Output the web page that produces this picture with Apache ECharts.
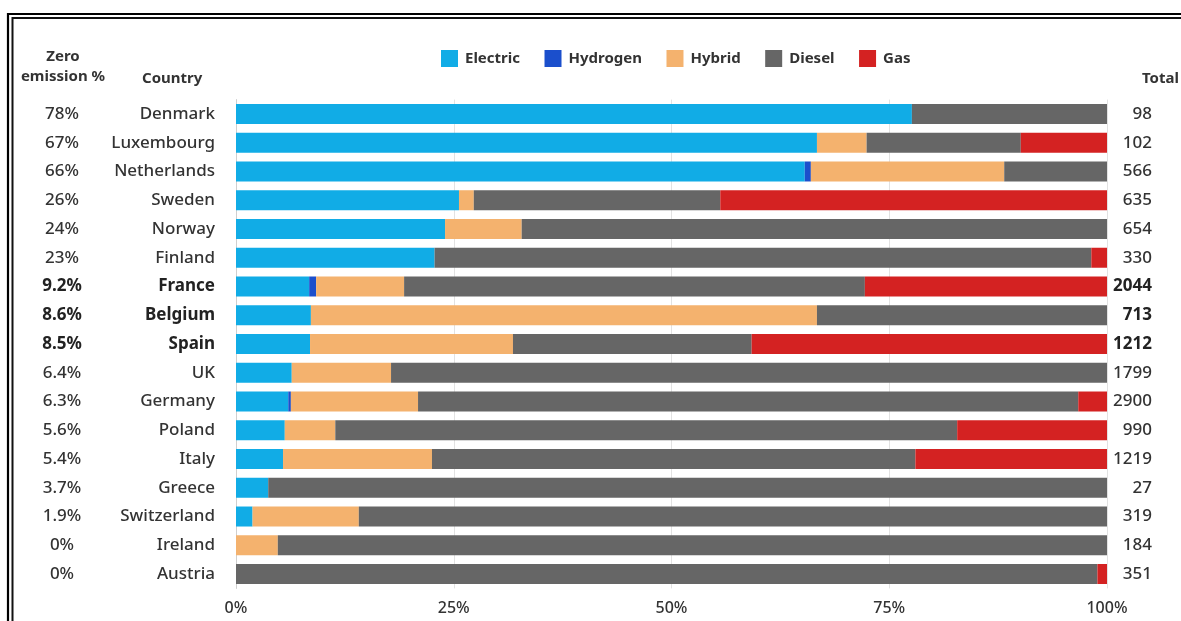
<!DOCTYPE html>
<html>
<head>
<meta charset="utf-8">
<script src="https://cdn.jsdelivr.net/npm/echarts@6/dist/echarts.min.js"></script>
<style>
  html, body { margin: 0; padding: 0; background: #fff; }
  #chart { width: 1181px; height: 621px; }
</style>
</head>
<body>
<div id="chart"></div>
<script>
// Bus fleet by fuel type, share of each country's fleet (%)
const countries = ['Denmark', 'Luxembourg', 'Netherlands', 'Sweden', 'Norway', 'Finland', 'France',
  'Belgium', 'Spain', 'UK', 'Germany', 'Poland', 'Italy', 'Greece', 'Switzerland', 'Ireland', 'Austria'];
const zeroEmission = ['78%', '67%', '66%', '26%', '24%', '23%', '9.2%', '8.6%', '8.5%', '6.4%', '6.3%',
  '5.6%', '5.4%', '3.7%', '1.9%', '0%', '0%'];
const totals = [98, 102, 566, 635, 654, 330, 2044, 713, 1212, 1799, 2900, 990, 1219, 27, 319, 184, 351];
const highlighted = ['France', 'Belgium', 'Spain'];

const electric = [77.6, 66.7, 65.3, 25.6, 24.0, 22.8, 8.4, 8.6, 8.5, 6.4, 6.0, 5.6, 5.4, 3.7, 1.9, 0, 0];
const hydrogen = [0, 0, 0.7, 0, 0, 0, 0.8, 0, 0, 0, 0.3, 0, 0, 0, 0, 0, 0];
const hybrid   = [0, 5.7, 22.2, 1.7, 8.8, 0, 10.1, 58.1, 23.3, 11.4, 14.6, 5.8, 17.1, 0, 12.2, 4.8, 0];
const diesel   = [22.4, 17.7, 11.8, 28.3, 67.2, 75.4, 52.9, 33.3, 27.4, 82.2, 75.8, 71.4, 55.5, 96.3, 85.9, 95.2, 98.9];
const gas      = [0, 9.9, 0, 44.4, 0, 1.8, 27.8, 0, 40.8, 0, 3.3, 17.2, 22.0, 0, 0, 0, 1.1];

const xTicks = [0, 25, 50, 75, 100];

const FONT = '"Noto Sans", sans-serif';
const TXT = '#333';

const chart = echarts.init(document.getElementById('chart'), null, { renderer: 'canvas' });

const isBold = (i) => highlighted.indexOf(countries[i]) >= 0;
const richLabel = (value, i) => isBold(i) ? '{b|' + value + '}' : '{n|' + value + '}';
const rich = {
  n: { fontFamily: FONT, fontSize: 17, color: TXT, fontWeight: 500 },
  b: { fontFamily: FONT, fontSize: 17, color: '#222', fontWeight: 'bold' }
};

const seriesDefs = [
  { name: 'Electric', data: electric, color: '#11ace6' },
  { name: 'Hydrogen', data: hydrogen, color: '#1b4fcc' },
  { name: 'Hybrid', data: hybrid, color: '#f4b26e' },
  { name: 'Diesel', data: diesel, color: '#666666' },
  { name: 'Gas', data: gas, color: '#d42222' }
];

const headerStyle = { fontFamily: FONT, fontSize: 15, fontWeight: 'bold', fill: '#333' };

chart.setOption({
  backgroundColor: '#fff',
  animation: false,
  textStyle: { fontFamily: FONT },
  legend: {
    left: 436, top: 45,
    itemWidth: 17, itemHeight: 17, itemGap: 24.5,
    icon: 'rect',
    textStyle: { fontFamily: FONT, fontSize: 15, fontWeight: 'bold', color: '#333', padding: [0, 0, 0, 2] },
    data: seriesDefs.map(s => s.name)
  },
  grid: { left: 236, right: 74, top: 99.6, bottom: 32.6, containLabel: false },
  xAxis: {
    type: 'value', min: 0, max: 100, interval: 25,
    axisLine: { show: false },
    axisTick: { show: false },
    splitLine: { show: true, lineStyle: { color: '#e2e2e2', width: 1 } },
    axisLabel: {
      formatter: (v) => xTicks.indexOf(v) >= 0 ? v + '%' : '',
      fontFamily: FONT, fontSize: 16, color: TXT, fontWeight: 500, margin: 12
    }
  },
  yAxis: [
    {
      type: 'category', data: countries, inverse: true,
      axisLine: { show: true, lineStyle: { color: '#cfcfcf' } },
      axisTick: { show: false },
      axisLabel: { margin: 21, formatter: richLabel, rich: rich }
    },
    {
      type: 'category', data: zeroEmission, inverse: true, position: 'left', offset: 174,
      axisLine: { show: false }, axisTick: { show: false },
      axisLabel: { margin: 0, align: 'center', formatter: richLabel, rich: rich }
    },
    {
      type: 'category', data: totals.map(String), inverse: true, position: 'right',
      axisLine: { show: false }, axisTick: { show: false },
      axisLabel: { margin: 45, align: 'right', formatter: richLabel, rich: rich }
    }
  ],
  series: seriesDefs.map(s => ({
    name: s.name, type: 'bar', stack: 'fleet', yAxisIndex: 0,
    barWidth: 20,
    itemStyle: { color: s.color },
    emphasis: { disabled: true },
    data: s.data
  })),
  graphic: [
    // double frame around the figure
    { type: 'polyline', shape: { points: [[8, 700], [8, 14], [1300, 14]] }, style: { stroke: '#000', lineWidth: 2.2, fill: null } },
    { type: 'polyline', shape: { points: [[12.5, 700], [12.5, 18], [1300, 18]] }, style: { stroke: '#111', lineWidth: 2, fill: null } },
    // column headers
    { type: 'text', x: 63, y: 49, style: Object.assign({ text: 'Zero', align: 'center' }, headerStyle) },
    { type: 'text', x: 63, y: 69, style: Object.assign({ text: 'emission %', align: 'center' }, headerStyle) },
    { type: 'text', x: 142, y: 71, style: Object.assign({ text: 'Country' }, headerStyle) },
    { type: 'text', x: 1142, y: 71, style: Object.assign({ text: 'Total' }, headerStyle) }
  ]
});
</script>
</body>
</html>
